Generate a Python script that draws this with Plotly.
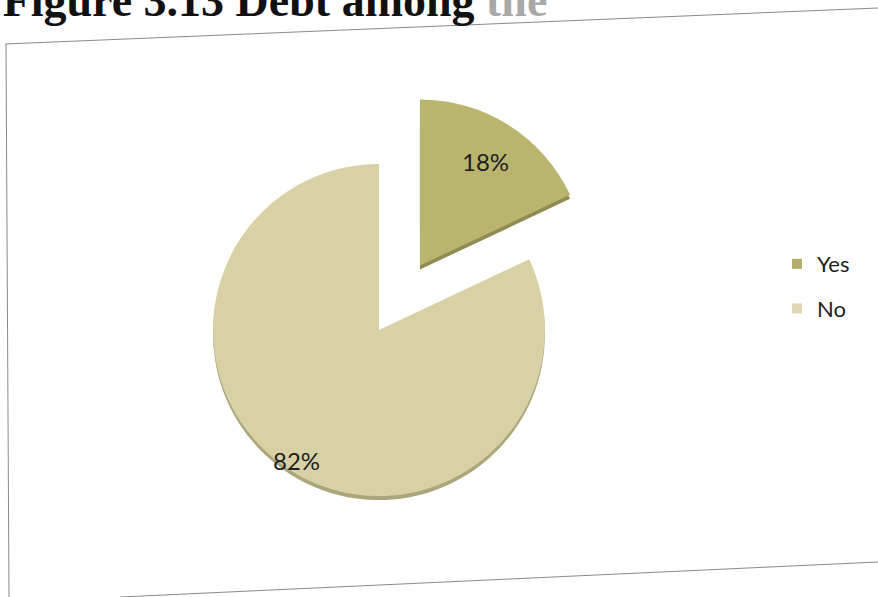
import math
import plotly.graph_objects as go

# Survey responses: does the household carry debt?
categories = ["Yes", "No"]
shares = [18, 82]
slice_colors = ["#b9b46e", "#d7d1a5"]
swatch_colors = ["#b3ae6c", "#ddd7b6"]
rim_colors = ["#8f8b52", "#aba57c"]
pull_out = [0.46, 0.0]
label_radius = [0.74, 0.93]   # label distance from slice tip, as a fraction of r

W, H = 878, 597

def px_x(x):
    return x / W

def px_y(y):
    return 1 - y / H

# pie box: centre (379, 330) px, radius 166 px, room for the pulled slice
cx, cy, r = 379, 330, 166
half = r * (1 + max(pull_out))
dom_x = [px_x(cx - half), px_x(cx + half)]
dom_y = [px_y(cy + half), px_y(cy - half)]
depth = 4
dom_y_rim = [px_y(cy + half + depth), px_y(cy - half + depth)]

fig = go.Figure()

# darker copy underneath gives the slices a shallow 3-D rim
fig.add_trace(go.Pie(
    labels=categories, values=shares, sort=False, direction="clockwise",
    rotation=0, pull=pull_out, domain=dict(x=dom_x, y=dom_y_rim),
    marker=dict(colors=rim_colors, line=dict(width=0)),
    textinfo="none", hoverinfo="skip", showlegend=False,
))

fig.add_trace(go.Pie(
    labels=categories, values=shares, sort=False, direction="clockwise",
    rotation=0, pull=pull_out, domain=dict(x=dom_x, y=dom_y),
    marker=dict(colors=slice_colors, line=dict(width=0)),
    textinfo="none", hoverinfo="label+percent", showlegend=False,
))

# percentage labels placed along each slice's bisector
total = sum(shares)
start = 0.0
for name, v, p, k in zip(categories, shares, pull_out, label_radius):
    mid = (start + v / 2) / total * 2 * math.pi
    start += v
    dist = (p + k) * r
    lx = cx + dist * math.sin(mid)
    ly = cy - dist * math.cos(mid)
    fig.add_annotation(
        x=px_x(lx), y=px_y(ly), xref="paper", yref="paper",
        text=f"{v / total * 100:.0f}%", showarrow=False,
        xanchor="center", yanchor="middle",
        font=dict(family="Lato, Carlito, sans-serif", size=24, color="#1e1e1e"),
    )

# legend entries, one group each so the rows can be spaced apart
for name, col in zip(categories, swatch_colors):
    fig.add_trace(go.Scatter(
        x=[None], y=[None], mode="markers", name=name, legendgroup=name,
        marker=dict(symbol="square", size=10, color=col),
    ))

# thin chart frame (slightly skewed like the printed page)
frame = dict(color="#8a8a8a", width=1)
fig.add_shape(type="line", xref="paper", yref="paper",
              x0=px_x(5), y0=px_y(44), x1=px_x(878), y1=px_y(8), line=frame)
fig.add_shape(type="line", xref="paper", yref="paper",
              x0=px_x(6), y0=px_y(44), x1=px_x(9), y1=px_y(597), line=frame)
fig.add_shape(type="line", xref="paper", yref="paper",
              x0=px_x(120), y0=px_y(597), x1=px_x(878), y1=px_y(562), line=frame)

fig.update_layout(
    width=W, height=H,
    margin=dict(l=0, r=0, t=0, b=0),
    paper_bgcolor="white", plot_bgcolor="white",
    xaxis=dict(visible=False), yaxis=dict(visible=False),
    title=dict(
        text="<b>Figure 3.13 Debt among <span style='color:#a8a8a8'>the</span></b>",
        font=dict(family="Liberation Serif, Times New Roman, serif", size=46, color="#111"),
        x=0.003, xanchor="left", xref="container",
        y=1.0, yanchor="middle", yref="container",
    ),
    legend=dict(
        x=px_x(777), y=px_y(243), xanchor="left", yanchor="top",
        tracegroupgap=13,
        font=dict(family="Lato, Carlito, sans-serif", size=22, color="#1e1e1e"),
        bgcolor="rgba(0,0,0,0)",
    ),
)

fig.write_html("out.html")
